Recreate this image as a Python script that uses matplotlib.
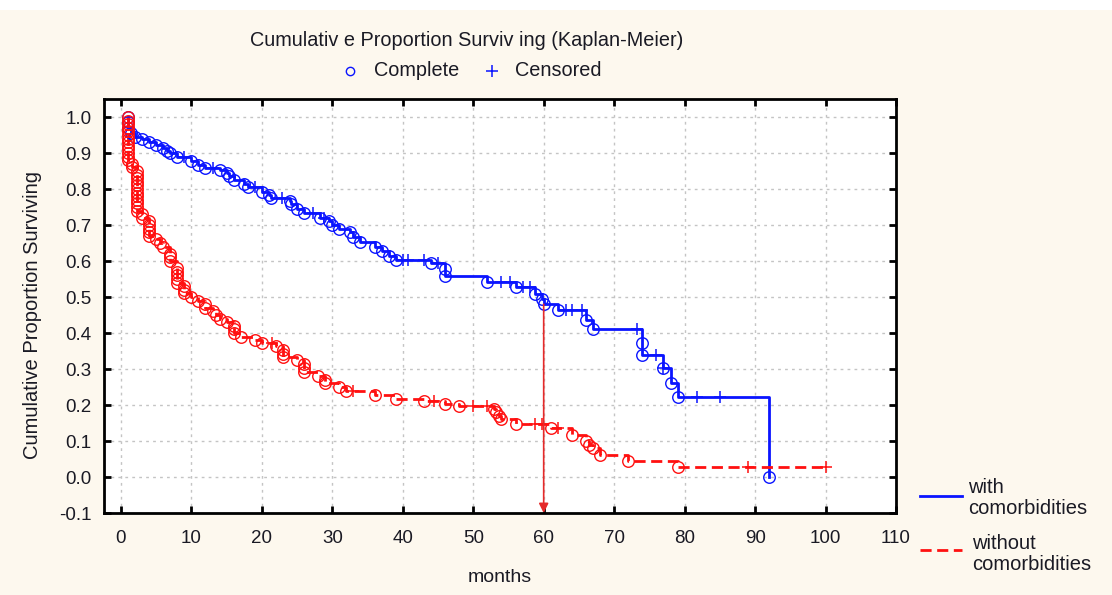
import numpy as np
import matplotlib
matplotlib.use('Agg')
import matplotlib.pyplot as plt
from matplotlib.lines import Line2D
from matplotlib.patches import Rectangle

plt.rcParams['font.family'] = ['Liberation Sans', 'DejaVu Sans']

# with comorbidities: event times / survival after each event
with_t = [1, 1, 1, 1.5, 2, 3, 4, 5, 6, 6.5, 7, 8, 10, 11, 12, 14, 15, 15.3, 16, 17.5, 18,
          20, 21, 21.3, 24, 24.2, 25, 26, 28.2, 29.5, 30, 31, 32.5, 33, 34, 36, 37, 38, 39,
          44, 46, 46, 52, 56, 58.7, 59.7, 60, 62, 66, 67, 74, 74, 77, 78, 79, 92]
with_s = [1.0, 0.985, 0.97, 0.955, 0.945, 0.94, 0.93, 0.922, 0.915, 0.905, 0.9, 0.89, 0.878,
          0.868, 0.858, 0.852, 0.845, 0.835, 0.825, 0.815, 0.805, 0.793, 0.783, 0.775, 0.767,
          0.757, 0.745, 0.733, 0.72, 0.71, 0.70, 0.688, 0.68, 0.668, 0.652, 0.638, 0.627,
          0.613, 0.603, 0.595, 0.577, 0.557, 0.543, 0.527, 0.507, 0.495, 0.48, 0.465, 0.435,
          0.41, 0.373, 0.34, 0.303, 0.26, 0.222, 0.0]
with_cens = [9, 13, 19, 22.8, 27.2, 28.8, 40, 40.7, 43, 45, 54, 55.2, 57, 58, 63.2, 64, 65.4,
             73.2, 76, 77, 81.8, 85]

# without comorbidities
without_t = [1, 1, 1, 1, 1, 1, 1, 1, 1, 1, 1, 1, 1, 1.6, 1.6,
             2.3, 2.3, 2.3, 2.3, 2.3, 2.3, 2.3, 2.3, 2.3, 2.3, 2.3, 2.3,
             3, 3, 4, 4, 4, 4, 4, 5, 5.5, 6, 7, 7, 7, 8, 8, 8, 8, 8, 9, 9, 9, 10, 11,
             12, 12, 13, 13.5, 14, 15, 16, 16, 16, 17, 19, 20, 22, 23, 23, 23, 25, 26, 26, 26,
             28, 29, 29, 31, 32, 36, 39, 43, 46, 48, 53, 53.3, 53.6, 54, 56, 61, 64, 66, 66.5,
             67, 68, 72, 79]
without_s = [1.0, 0.99, 0.98, 0.97, 0.96, 0.95, 0.94, 0.93, 0.92, 0.91, 0.90, 0.89, 0.88,
             0.87, 0.86,
             0.85, 0.84, 0.83, 0.82, 0.81, 0.80, 0.79, 0.78, 0.77, 0.76, 0.75, 0.74,
             0.73, 0.72, 0.71, 0.70, 0.69, 0.68, 0.67, 0.66, 0.65, 0.64, 0.62, 0.61, 0.60,
             0.58, 0.57, 0.56, 0.55, 0.54, 0.53, 0.52, 0.51, 0.50, 0.49,
             0.48, 0.47, 0.46, 0.45, 0.44, 0.43, 0.42, 0.41, 0.40, 0.39, 0.38, 0.372, 0.363,
             0.353, 0.343, 0.333, 0.325, 0.315, 0.303, 0.293,
             0.28, 0.27, 0.26, 0.25, 0.24, 0.228, 0.218, 0.21, 0.204, 0.198, 0.19, 0.18, 0.17,
             0.16, 0.148, 0.135, 0.118, 0.1, 0.09, 0.08, 0.062, 0.045, 0.028]
without_cens = [21.4, 33, 44.5, 50, 52, 58.7, 59.7, 62, 89, 100]

arrow_x = 60
arrow_y = 0.48

xticks = list(range(0, 111, 10))
yticks = [round(v, 1) for v in np.arange(-0.1, 1.01, 0.1)]

BLUE = '#0a14ff'
RED = '#ff1010'
TXT = '#1a1a24'
DASH = (0, (4, 2))


def surv_at(t_ev, s_ev, t):
    i = np.searchsorted(t_ev, t, side='right') - 1
    return s_ev[i]


def km_line(t_ev, s_ev, cens):
    t_ev = np.array(t_ev)
    s_ev = np.array(s_ev)
    c = np.array(cens)
    cs = np.array([surv_at(t_ev, s_ev, x) for x in c])
    tt = np.concatenate([t_ev, c])
    ss = np.concatenate([s_ev, cs])
    order = np.argsort(tt, kind='stable')
    return tt[order], ss[order], c, cs


fig = plt.figure(figsize=(11.12, 5.95), dpi=100, facecolor='#fdf8ee')
fig.add_artist(Rectangle((0, 1 - 10 / 595), 1, 10 / 595, transform=fig.transFigure,
                         facecolor='white', edgecolor='none'))
ax = fig.add_axes([104 / 1112, 1 - 513 / 595, 792 / 1112, 414 / 595])
ax.set_facecolor('white')

for t_ev, s_ev, cens, col, ls in [(with_t, with_s, with_cens, BLUE, '-'),
                                  (without_t, without_s, without_cens, RED, DASH)]:
    lt, ls_, c, cs = km_line(t_ev, s_ev, cens)
    ax.step(lt, ls_, where='post', color=col, lw=2, linestyle=ls, zorder=3)
    ax.plot(t_ev, s_ev, 'o', ms=8.3, mfc='none', mec=col, mew=1, zorder=4)
    ax.plot(c, cs, '+', ms=8.5, color=col, mew=1.1, zorder=4)

ax.annotate('', xy=(arrow_x, -0.1), xytext=(arrow_x, arrow_y),
            arrowprops=dict(arrowstyle='-|>', color='#e52a2a', lw=1.2,
                            mutation_scale=14, shrinkA=0, shrinkB=0), zorder=5)

ax.set_xlim(-2.4, 110)
ax.set_ylim(-0.1, 1.05)
ax.set_xticks(xticks)
ax.set_yticks(yticks)
ax.set_yticklabels(['%.1f' % v for v in yticks])
ax.grid(True, color='#c4c4c4', linestyle=(0, (2, 3)), lw=1)
ax.tick_params(direction='in', length=5, width=2, top=True, right=True,
               labelsize=13.5, labelcolor=TXT, pad=9)
ax.tick_params(axis='x', pad=12)
for sp in ax.spines.values():
    sp.set_linewidth(2)
    sp.set_color('black')

fig.text(33 / 1112, 1 - 315 / 595, 'Cumulative Proportion Surviving', rotation=90,
         ha='center', va='center', fontsize=14.5, color=TXT)
fig.text(500 / 1112, 1 - 578 / 595, 'months', ha='center', va='center', fontsize=14, color=TXT)
fig.text(467 / 1112, 1 - 40 / 595, 'Cumulativ e Proportion Surviv ing (Kaplan-Meier)',
         ha='center', va='center', fontsize=14.3, color=TXT)

# marker key under the title
fig.add_artist(Line2D([350 / 1112], [1 - 71 / 595], marker='o', ms=6, mfc='none', mec=BLUE,
                      mew=1, transform=fig.transFigure))
fig.text(374 / 1112, 1 - 71 / 595, 'Complete', ha='left', va='center', fontsize=14.3, color=TXT)
fig.add_artist(Line2D([492 / 1112], [1 - 71 / 595], marker='+', ms=9, color=BLUE,
                      mew=1.1, transform=fig.transFigure))
fig.text(515 / 1112, 1 - 71 / 595, 'Censored', ha='left', va='center', fontsize=14.3, color=TXT)

# series key bottom right
fig.add_artist(Line2D([920 / 1112, 962 / 1112], [1 - 496 / 595] * 2, color=BLUE, lw=2,
                      transform=fig.transFigure))
fig.text(968 / 1112, 1 - 498 / 595, 'with\ncomorbidities', ha='left', va='center',
         fontsize=14.5, color=TXT, linespacing=1.15)
fig.add_artist(Line2D([920 / 1112, 962 / 1112], [1 - 550 / 595] * 2, color=RED, lw=2,
                      linestyle=DASH, transform=fig.transFigure))
fig.text(972 / 1112, 1 - 554 / 595, 'without\ncomorbidities', ha='left', va='center',
         fontsize=14.5, color=TXT, linespacing=1.15)

fig.savefig('out.png', dpi=100, facecolor=fig.get_facecolor())
